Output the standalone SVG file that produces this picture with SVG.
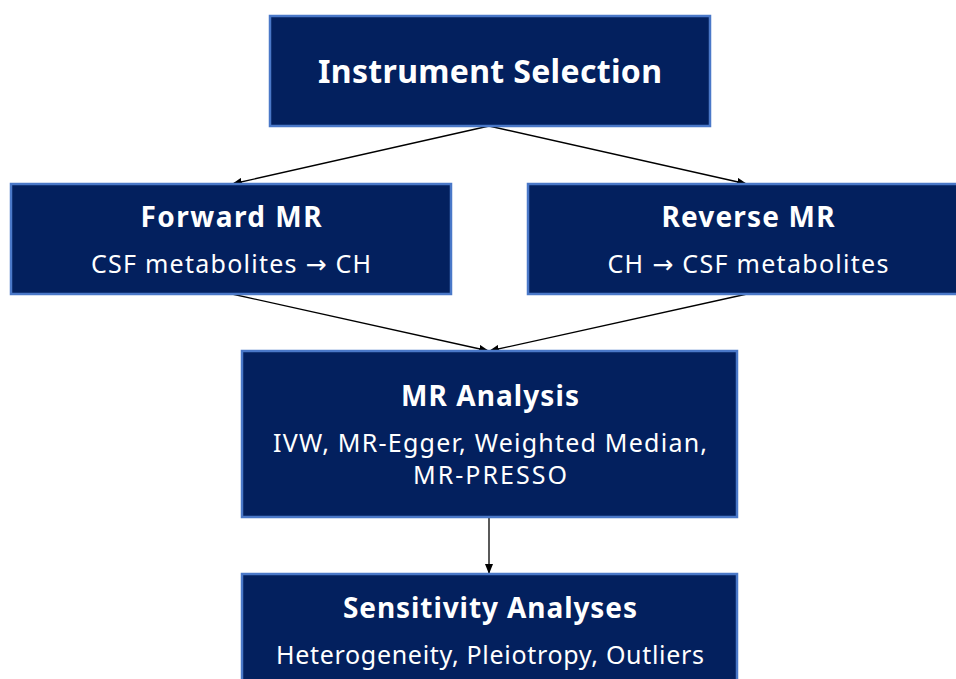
<svg xmlns="http://www.w3.org/2000/svg" width="956" height="679" viewBox="0 0 956 679">
<defs>
<marker id="ah" markerWidth="10" markerHeight="8" refX="10" refY="4" orient="auto" markerUnits="userSpaceOnUse">
<path d="M0,0 L10,4 L0,8 Z" fill="#000"/>
</marker>
<style>
.box{fill:#03205e;stroke:#4a78c8;stroke-width:2.5}
.t{font-family:"Noto Sans","Open Sans",sans-serif;fill:#fff;text-anchor:middle}
.h{font-weight:bold;font-size:28px}
.h1{font-weight:bold;font-size:32px}
.s{font-size:25px}
.ar{font-family:"DejaVu Sans",sans-serif}
.c{stroke:#000;stroke-width:1.3;fill:none;marker-end:url(#ah)}
</style>
</defs>
<rect width="956" height="679" fill="#fff"/>
<g id="connectors">
<line class="c" x1="489" y1="126" x2="232" y2="184"/>
<line class="c" x1="489" y1="126" x2="747" y2="184"/>
<line class="c" x1="232" y1="294" x2="489" y2="351"/>
<line class="c" x1="747" y1="294" x2="489" y2="351"/>
<line class="c" x1="489" y1="517" x2="489" y2="574"/>
</g>
<g id="instrument">
<rect class="box" x="270" y="16" width="440" height="110"/>
<text class="t h1" x="490" y="83" textLength="344">Instrument Selection</text>
</g>
<g id="forward">
<rect class="box" x="11" y="184" width="440" height="110"/>
<text class="t h" x="231" y="227" textLength="181">Forward MR</text>
<text class="t s" x="231" y="273" textLength="280">CSF metabolites <tspan class="ar">→</tspan> CH</text>
</g>
<g id="reverse">
<rect class="box" x="528" y="184" width="440" height="110"/>
<text class="t h" x="748" y="227" textLength="173">Reverse MR</text>
<text class="t s" x="748" y="273" textLength="281">CH <tspan class="ar">→</tspan> CSF metabolites</text>
</g>
<g id="mr">
<rect class="box" x="242" y="351" width="495" height="166"/>
<text class="t h" x="490" y="406" textLength="178">MR Analysis</text>
<text class="t s" x="490" y="452" textLength="434">IVW, MR-Egger, Weighted Median,</text>
<text class="t s" x="490" y="484" textLength="154">MR-PRESSO</text>
</g>
<g id="sensitivity">
<rect class="box" x="242" y="574" width="495" height="130"/>
<text class="t h" x="490" y="618" textLength="294">Sensitivity Analyses</text>
<text class="t s" x="490" y="664" textLength="428">Heterogeneity, Pleiotropy, Outliers</text>
</g>
</svg>
